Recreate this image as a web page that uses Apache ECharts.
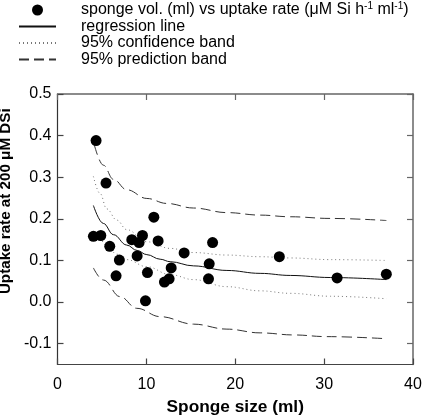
<!DOCTYPE html>
<html>
<head>
<meta charset="utf-8">
<script src="https://cdn.jsdelivr.net/npm/echarts@6/dist/echarts.min.js"></script>
<style>
html,body{margin:0;padding:0;background:#fff;}
#chart{width:423px;height:418px;}
</style>
</head>
<body>
<div id="chart"></div>
<script>
// ---- data ----
var sizeMl = [4.34, 5.46, 10.84, 4.04, 4.87, 5.88, 8.36, 9.56, 9.18, 11.32, 17.45, 14.25, 8.96,
              6.96, 6.59, 10.12, 12.79, 17.07, 16.99, 12.03, 12.56, 9.90, 24.96, 31.46, 37.0];
var uptake = [0.388, 0.286, 0.204, 0.158, 0.160, 0.134, 0.150, 0.160, 0.143, 0.147, 0.143, 0.118, 0.111,
              0.101, 0.063, 0.071, 0.082, 0.092, 0.056, 0.048, 0.056, 0.003, 0.109, 0.058, 0.067];

var regX = [4.04, 5.16, 6.29, 7.79, 8.96, 10.05, 11.55, 12.68, 15.3, 19.06, 22.8, 26.2, 30.7, 37.0];
var regY = [0.232, 0.189, 0.162, 0.137, 0.124, 0.114, 0.103, 0.097, 0.087, 0.076, 0.069, 0.064, 0.059, 0.054];

var upConfX = [4.04, 4.79, 5.54, 6.67, 7.79, 10.05, 12.68, 15.3, 19.06, 22.8, 26.2, 30.7, 37.0];
var upConfY = [0.302, 0.261, 0.224, 0.197, 0.174, 0.145, 0.129, 0.119, 0.113, 0.109, 0.106, 0.102, 0.100];

var loConfX = [4.04, 4.79, 5.54, 6.67, 7.79, 10.05, 12.68, 15.3, 19.06, 22.8, 26.2, 30.7, 37.0];
var loConfY = [0.165, 0.150, 0.135, 0.115, 0.102, 0.085, 0.066, 0.054, 0.037, 0.027, 0.021, 0.014, 0.008];

var upPredX = [4.15, 5.16, 6.29, 7.79, 10.05, 12.3, 15.3, 19.06, 22.8, 26.2, 30.7, 37.0];
var upPredY = [0.377, 0.329, 0.295, 0.270, 0.249, 0.237, 0.226, 0.215, 0.209, 0.205, 0.201, 0.196];

var loPredX = [4.04, 5.16, 7.04, 8.92, 11.55, 15.3, 19.06, 22.8, 26.6, 30.3, 37.0];
var loPredY = [0.082, 0.053, 0.013, -0.015, -0.035, -0.053, -0.065, -0.074, -0.079, -0.083, -0.088];

var yTicks = [-0.1, 0.0, 0.1, 0.2, 0.3, 0.4, 0.5];
var xTicks = [0, 10, 20, 30, 40];

var names = ['sponge vol. (ml) vs uptake rate (μM Si h-1 ml-1)', 'regression line',
             '95% confidence band', '95% prediction band'];
var xTitle = 'Sponge size (ml)';
var yTitle = 'Uptake rate at 200 μM DSi';

function pairs(xs, ys) { return xs.map(function (x, i) { return [x, ys[i]]; }); }

var FONT = 'Liberation Sans, Arial, Helvetica, sans-serif';
var chart = echarts.init(document.getElementById('chart'), null, {renderer: 'canvas'});

function lineSeries(name, xs, ys, type, color) {
  return {
    name: name, type: 'line', xAxisIndex: 0, yAxisIndex: 0,
    data: pairs(xs, ys), symbol: 'none', smooth: 0.4, smoothMonotone: 'x',
    lineStyle: {color: color, width: 1, type: type}, itemStyle: {color: color},
    silent: true, z: 2
  };
}

var hiddenMark = {color: 'rgba(0,0,0,0)', borderWidth: 0};

var option = {
  animation: false,
  backgroundColor: '#fff',
  textStyle: {fontFamily: FONT},
  grid: {left: 57.5, right: 10, top: 94, bottom: 53.5, containLabel: false,
         outerBoundsMode: 'none'},
  legend: {
    orient: 'vertical', left: 13, top: -3.5,
    itemWidth: 37, itemHeight: 11, itemGap: 0.5,
    data: [
      {name: names[0]},
      {name: names[1], itemStyle: hiddenMark},
      {name: names[2], itemStyle: hiddenMark},
      {name: names[3], itemStyle: hiddenMark}
    ],
    textStyle: {
      fontFamily: FONT, fontSize: 16, color: '#000', lineHeight: 16,
      rich: {
        s: {width: 20},
        t: {fontFamily: FONT, fontSize: 16, color: '#000'},
        sup: {fontFamily: FONT, fontSize: 10, color: '#000', padding: [0, 0, 7, 0]}
      }
    },
    formatter: function (n) {
      if (n === names[0]) {
        return '{s|}{t|sponge vol. (ml) vs uptake rate (μM Si h}{sup|-1}{t| ml}{sup|-1}{t|)}';
      }
      return '{s|}{t|' + n + '}';
    },
    selectedMode: false
  },
  xAxis: [{
    type: 'value', min: 0, max: 40, interval: 10, position: 'bottom',
    name: xTitle, nameLocation: 'middle', nameGap: 34,
    nameTextStyle: {fontFamily: FONT, fontSize: 17.3, fontWeight: 'bold', color: '#000'},
    axisLine: {show: true, onZero: false, lineStyle: {color: '#444', width: 1.2}},
    axisTick: {show: true, inside: true, length: 6, lineStyle: {color: '#444', width: 1.2}},
    axisLabel: {fontFamily: FONT, fontSize: 16, color: '#000', margin: 12,
                customValues: xTicks},
    splitLine: {show: false}
  }, {
    type: 'value', min: 0, max: 40, interval: 10, position: 'top',
    axisLine: {show: true, onZero: false, lineStyle: {color: '#666', width: 1.5}},
    axisTick: {show: true, inside: true, length: 6, lineStyle: {color: '#666', width: 1.2}},
    axisLabel: {show: false}, splitLine: {show: false}
  }],
  yAxis: [{
    type: 'value', min: -0.15, max: 0.5, position: 'left',
    name: yTitle, nameLocation: 'middle', nameGap: 20, nameRotate: 90,
    nameTextStyle: {fontFamily: FONT, fontSize: 15.2, fontWeight: 'bold', color: '#000',
                    padding: [0, 0, 0, 56]},
    axisLine: {show: true, onZero: false, lineStyle: {color: '#333', width: 1.2}},
    axisTick: {show: true, inside: true, length: 6, customValues: yTicks,
               lineStyle: {color: '#444', width: 1.2}},
    axisLabel: {fontFamily: FONT, fontSize: 16, color: '#000', margin: 6,
                customValues: yTicks,
                formatter: function (v) { return v.toFixed(1); }},
    splitLine: {show: false}
  }, {
    type: 'value', min: -0.15, max: 0.5, position: 'right',
    axisLine: {show: true, onZero: false, lineStyle: {color: '#666', width: 1.5}},
    axisTick: {show: true, inside: true, length: 6, customValues: yTicks,
               lineStyle: {color: '#666', width: 1.2}},
    axisLabel: {show: false}, splitLine: {show: false}
  }],
  series: [
    {
      name: names[0], type: 'scatter', xAxisIndex: 0, yAxisIndex: 0,
      data: pairs(sizeMl, uptake), symbol: 'circle', symbolSize: 11,
      itemStyle: {color: '#000', opacity: 1}, z: 5, silent: true
    },
    lineSeries(names[1], regX, regY, 'solid', '#111'),
    lineSeries(names[2], upConfX, upConfY, [1, 3], '#777'),
    lineSeries(names[3], upPredX, upPredY, [10, 5], '#333'),
    lineSeries(names[2], loConfX, loConfY, [1, 3], '#777'),
    lineSeries(names[3], loPredX, loPredY, [10, 5], '#333')
  ]
};
chart.setOption(option);
</script>
</body>
</html>
